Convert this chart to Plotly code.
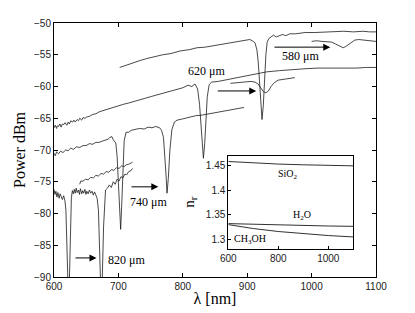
import plotly.graph_objects as go

# ---- main spectra (wavelength nm, power dBm) ----
# top trace, deep dip near 923 nm
wl_a = [702, 710, 718, 726, 734, 744, 755, 769, 782, 796, 810, 822, 835, 847, 860, 873, 885, 897, 904, 908,
        912, 915, 917, 919, 921, 923, 925, 927, 929, 931, 934, 937, 941, 945, 950, 955, 960, 966, 975, 990,
        1005, 1020, 1035, 1050, 1065, 1080, 1090, 1100]
pw_a = [-57.0, -56.7, -56.4, -56.1, -55.9, -55.6, -55.3, -55.0, -54.8, -54.4, -54.2, -53.9, -53.8, -53.6, -53.4,
        -53.2, -53.0, -52.8, -52.6, -52.8, -53.1, -54.2, -56.0, -59.0, -62.8, -65.2, -63.0, -58.5, -55.0, -53.0,
        -52.4, -52.2, -51.9, -52.2, -52.0, -51.8, -52.0, -51.7, -51.7, -51.5, -51.5, -51.4, -51.4, -51.3, -51.4,
        -51.3, -51.4, -51.4]

# second trace, dip near 832 nm
wl_b = [600, 602, 604, 605, 607, 609, 611, 613, 615, 617, 620, 622, 624, 626, 629, 631, 633, 636, 638, 640,
        643, 645, 648, 651, 655, 660, 665, 670, 676, 682, 688, 694, 700, 708, 716, 724, 732, 740, 750, 760,
        770, 780, 790, 800, 808, 814, 819, 823, 826, 828, 830, 832, 834, 836, 838, 841, 845, 855, 870, 890,
        910, 930, 950, 970, 990, 1010, 1030, 1050, 1070, 1085, 1100]
pw_b = [-66.5, -66.1, -66.6, -66.2, -66.3, -65.9, -66.4, -65.9, -66.0, -65.7, -66.1, -65.6, -65.9, -65.4, -65.6,
        -65.3, -65.6, -65.2, -65.4, -65.0, -65.3, -64.9, -65.0, -64.8, -64.7, -64.4, -64.3, -64.0, -63.8, -63.6,
        -63.4, -63.2, -63.0, -62.8, -62.6, -62.4, -62.1, -61.9, -61.6, -61.3, -61.0, -60.7, -60.5, -60.2, -59.8,
        -60.0, -59.6, -60.4, -62.8, -66.0, -69.5, -71.3, -69.0, -65.0, -61.6, -59.7, -59.3, -59.2, -58.9, -58.5,
        -58.1, -57.7, -57.5, -57.3, -57.2, -57.1, -57.1, -57.2, -57.1, -57.0, -57.0]

# third trace, dips near 704 and 776 nm
wl_c = [600, 602, 604, 607, 610, 614, 618, 622, 626, 630, 635, 640, 645, 650, 655, 660, 665, 670, 675, 680,
        684, 687, 690, 692, 694, 696, 698, 700, 702, 703.5, 705, 707, 709, 712, 716, 720, 726, 733, 740, 746,
        752, 758, 764, 767, 770, 772, 774, 775.5, 777.5, 780, 783, 787, 791, 800, 810, 820, 830, 840, 850, 860,
        870, 880, 888, 895]
pw_c = [-70.5, -70.9, -70.3, -70.6, -70.2, -70.4, -70.0, -70.1, -69.7, -69.9, -69.5, -69.6, -69.3, -69.3, -69.0,
        -69.1, -68.8, -68.8, -68.6, -68.5, -68.3, -68.0, -67.9, -68.4, -68.6, -68.9, -71.0, -75.5, -80.5, -82.5,
        -79.0, -72.5, -68.5, -67.2, -67.2, -66.9, -66.8, -66.6, -66.7, -66.4, -66.5, -66.3, -66.5, -66.9, -68.0,
        -70.5, -74.0, -76.8, -74.5, -70.0, -66.8, -65.6, -65.3, -65.1, -64.8, -64.6, -64.5, -64.3, -64.1, -63.9,
        -63.7, -63.5, -63.4, -63.3]

# short trace with shallow dip at 1049 nm
wl_d = [1000, 1008, 1016, 1024, 1031, 1037, 1042, 1046, 1049, 1053, 1057, 1062, 1067, 1073, 1080, 1088, 1095, 1100]
pw_d = [-52.9, -52.8, -52.9, -52.9, -53.0, -53.3, -53.6, -53.85, -53.9, -53.7, -53.4, -53.0, -52.7, -52.6, -52.7,
        -52.8, -52.9, -52.9]

# short trace with shallow dip near 929 nm
wl_e = [874, 882, 890, 898, 906, 912, 917, 921, 925, 929, 933, 937, 942, 948, 956, 965, 974]
pw_e = [-59.5, -59.4, -59.4, -59.3, -59.2, -59.3, -59.6, -60.2, -60.8, -61.0, -60.7, -60.0, -59.4, -59.0, -58.9,
        -58.8, -58.6]

# bottom trace (820 um), dips at 622 and 673 nm
wl_f = [600, 601.5, 603, 604.5, 606, 608, 609.5, 611, 613, 615, 617, 618.5, 620, 621, 622.5, 624, 625.5, 627, 628.5, 630,
        631.5, 633, 634.5, 636, 638, 639.5, 641, 643, 644.5, 646, 648, 649.5, 651, 653, 655, 657, 659, 661, 663, 665,
        667, 669, 670.5, 672, 673.5, 675, 677, 680, 683, 686, 689, 692, 695, 698, 701, 704, 707, 710, 713, 716,
        719, 722]
pw_f = [-76.2, -77.0, -76.5, -77.4, -76.7, -77.6, -76.9, -77.3, -77.8, -77.2, -78.0, -79.5, -83.0, -88.0, -94.0,
        -90.0, -83.0, -77.5, -76.4, -76.9, -76.2, -76.8, -76.0, -76.7, -76.3, -77.0, -76.1, -76.9, -76.4, -76.8,
        -76.2, -77.0, -76.5, -76.9, -76.3, -76.8, -76.5, -77.1, -76.6, -77.0, -77.6, -79.5, -84.0, -91.0, -95.0,
        -90.0, -82.0, -76.3, -76.0, -75.5, -75.9, -75.0, -75.4, -74.6, -74.9, -74.2, -74.4, -73.8, -73.9, -73.4,
        -73.3, -72.9]

# short noisy trace 640-722 nm
wl_g = [640, 641.5, 645, 649, 653, 657, 661, 665, 669, 673, 677, 681, 685, 689, 693, 697, 701, 705, 709, 713, 717, 722]
pw_g = [-75.4, -74.9, -74.9, -74.6, -74.7, -74.3, -74.4, -74.0, -74.1, -73.7, -73.8, -73.4, -73.5, -73.1, -73.2,
        -72.8, -72.9, -72.5, -72.6, -72.3, -72.2, -71.9]

# ---- inset: refractive index ----
wl_n = [600, 700, 800, 900, 1000, 1100]
n_sio2 = [1.4585, 1.4553, 1.4533, 1.4518, 1.4507, 1.4497]
n_h2o = [1.3325, 1.3310, 1.3295, 1.3285, 1.3277, 1.3270]
n_ch3oh = [1.3305, 1.3225, 1.3165, 1.3118, 1.3083, 1.3055]

x_range = [600, 1100]
y_range = [-90, -50]
xn_range = [600, 1100]
yn_range = [1.281, 1.4703]

serif = "Liberation Serif"
sans = "Liberation Sans"
ink = "#1a1a1a"

fig = go.Figure()

for wl, pw in [(wl_a, pw_a), (wl_b, pw_b), (wl_c, pw_c), (wl_d, pw_d),
               (wl_e, pw_e), (wl_f, pw_f), (wl_g, pw_g)]:
    fig.add_trace(go.Scatter(x=wl, y=pw, mode="lines", line=dict(color=ink, width=0.8),
                             showlegend=False, hoverinfo="skip"))

for n in [n_sio2, n_h2o, n_ch3oh]:
    fig.add_trace(go.Scatter(x=wl_n, y=n, mode="lines", line=dict(color=ink, width=0.9),
                             xaxis="x2", yaxis="y2", showlegend=False, hoverinfo="skip"))

# white background behind the inset
fig.add_shape(type="rect", xref="x2", yref="y2", x0=xn_range[0], x1=xn_range[1],
              y0=yn_range[0], y1=yn_range[1], fillcolor="white", line=dict(width=0), layer="below")

axis_common = dict(showline=True, linecolor="black", linewidth=1, ticks="inside",
                   tickcolor="black", showgrid=False, zeroline=False, automargin=False,
                   tickfont=dict(family=sans, size=10, color="#222"))

fig.update_layout(
    width=415, height=313,
    margin=dict(l=54, r=39, t=23, b=36),
    plot_bgcolor="white", paper_bgcolor="white",
    xaxis=dict(axis_common, range=x_range, tickvals=[600, 700, 800, 900, 1000, 1100], ticklen=4,
               mirror="ticks",
               title=dict(text="λ [nm]", font=dict(family=serif, size=16, color="black"), standoff=1)),
    yaxis=dict(axis_common, range=y_range, dtick=5, ticklen=4, mirror="ticks",
               title=dict(text="Power dBm", font=dict(family=serif, size=16, color="black"), standoff=4)),
    xaxis2=dict(axis_common, domain=[0.5413, 0.9295], anchor="y2", range=xn_range,
                tickvals=[600, 800, 1000], ticklen=3, mirror=True),
    yaxis2=dict(axis_common, domain=[0.1102, 0.4776], anchor="x2", range=yn_range,
                tickvals=[1.3, 1.35, 1.4, 1.45], ticklen=3, mirror=True,
                title=dict(text="n<sub>r</sub>", font=dict(family=serif, size=15, color="black"), standoff=7)),
)

arrows = [
    dict(x=666, y=-87.0, ax=631, ay=-87.0),
    dict(x=762, y=-75.8, ax=718, ay=-75.8),
    dict(x=914, y=-60.7, ax=852, ay=-60.7),
    dict(x=1029, y=-53.8, ax=940, ay=-53.8),
]
for a in arrows:
    fig.add_annotation(a, xref="x", yref="y", axref="x", ayref="y", text="", showarrow=True,
                       arrowhead=2, arrowsize=1.4, arrowwidth=1, arrowcolor="black")

labels = [
    (713, -87.3, "820 μm"),
    (746, -78.2, "740 μm"),
    (837, -57.6, "620 μm"),
    (982, -55.15, "580 μm"),
]
for x, y, t in labels:
    fig.add_annotation(x=x, y=y, xref="x", yref="y", text=t, showarrow=False,
                       font=dict(family=serif, size=12, color="black"))

inset_labels = [
    (839, 1.432, "SiO<sub>2</sub>"),
    (895, 1.349, "H<sub>2</sub>O"),
    (687, 1.300, "CH<sub>3</sub>OH"),
]
for x, y, t in inset_labels:
    fig.add_annotation(x=x, y=y, xref="x2", yref="y2", text=t, showarrow=False,
                       font=dict(family=serif, size=10, color="black"))

# page body has a default 8px margin; remove it so the figure sits at the corner
fig.write_html("out.html", config={"displayModeBar": False},
               post_script="document.body.style.margin = '0';")
